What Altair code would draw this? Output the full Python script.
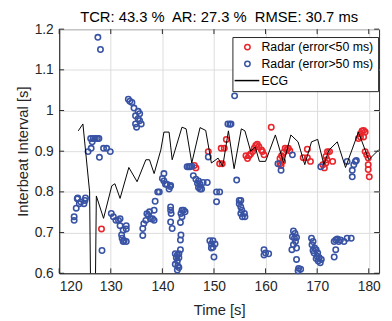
import altair as alt
import pandas as pd

# ---------------- data ----------------
red_t = [128.2, 146.2, 146.5, 148.9, 151.1, 151.6, 151.4, 152.0, 152.4,
         156.2, 156.8, 156.5, 157.1, 157.5, 157.8, 158.1, 158.4, 158.7, 159.4, 159.7, 159.2,
         161.1, 162.8, 163.1, 163.5, 163.8, 164.1, 164.4, 164.7, 163.0, 163.3, 162.8,
         167.3, 168.1, 168.1, 168.7, 171.1, 171.4, 171.7, 171.7, 172.0, 172.4, 171.9, 173.0,
         178.0, 178.4, 178.7, 179.0, 179.3, 178.4, 179.0, 179.3, 179.6, 179.9, 179.9, 179.9, 180.1]
red_v = [0.709, 0.865, 0.859, 0.899, 0.869, 0.869, 0.907, 0.907, 0.929,
         0.889, 0.889, 0.882, 0.893, 0.899, 0.907, 0.914, 0.917, 0.911, 0.899, 0.891, 0.903,
         0.959, 0.882, 0.889, 0.897, 0.907, 0.903, 0.907, 0.901, 0.865, 0.875, 0.869,
         0.884, 0.905, 0.884, 0.875, 0.867, 0.859, 0.871, 0.887, 0.899, 0.899, 0.879, 0.875,
         0.931, 0.943, 0.950, 0.951, 0.947, 0.935, 0.935, 0.899, 0.891, 0.883, 0.867, 0.855, 0.837]

blue_t = [127.5, 128.0, 133.4, 133.7, 134.1, 134.5, 135.3, 135.6, 134.8, 135.3, 135.6, 134.8, 135.0, 135.9,
          126.1, 126.6, 127.0, 127.4, 127.7, 126.4, 126.2, 125.6, 128.6, 129.2, 129.9, 127.8,
          123.5, 123.6, 123.9, 124.2, 124.8, 125.1, 125.0, 123.3, 122.9, 122.9, 128.3,
          130.1, 130.5, 131.0, 131.5, 131.8, 131.8, 132.4, 133.0, 133.0, 132.1, 132.2, 132.6, 133.0, 132.4,
          136.2, 136.2, 136.4, 136.8, 137.0, 137.3, 137.7, 137.5, 138.1, 138.4, 138.4, 138.6,
          139.1, 139.4, 140.0, 140.3, 140.6, 140.3, 144.8, 145.1, 145.4, 145.7,
          140.9, 141.5, 141.3, 141.6, 146.0, 146.5, 147.0, 147.3, 147.0, 147.6, 147.3, 147.9, 148.7, 146.8,
          150.5, 151.1, 150.5, 154.4, 154.9, 155.2, 154.9, 155.2, 155.4, 155.2, 155.5, 156.0, 155.9,
          141.6, 141.6, 141.7, 141.6, 141.9, 143.8, 144.1, 144.4, 143.6, 143.8, 143.5, 143.6, 143.5,
          142.5, 142.9, 143.2, 142.7, 142.9, 142.5, 143.0, 143.2, 142.9, 143.5, 143.2,
          149.2, 149.8, 149.5, 150.2, 149.8, 150.0, 149.5, 159.7, 160.0, 160.6, 159.7,
          154.0, 152.7, 153.3, 153.1, 148.9, 162.4, 163.0, 165.2, 170.7,
          175.8, 177.4, 177.1, 176.8, 176.8, 177.6,
          165.4, 165.7, 165.2, 165.6, 166.0, 165.8, 165.4, 165.1, 166.0, 166.0, 166.4, 166.8, 166.3,
          168.9, 169.2, 169.0, 169.5, 169.8, 169.2, 169.4, 170.1, 170.0, 169.8, 170.4, 170.8, 170.6, 170.2,
          173.3, 173.6, 173.9, 174.5, 174.2, 175.2, 175.8, 176.6, 173.6, 173.3]
blue_v = [1.180, 1.150, 1.028, 1.023, 1.020, 1.006, 0.998, 0.992, 0.987, 0.980, 0.975, 0.967, 0.959, 0.967,
          0.931, 0.931, 0.931, 0.931, 0.931, 0.923, 0.907, 0.899, 0.907, 0.907, 0.899, 0.885,
          0.783, 0.785, 0.771, 0.775, 0.771, 0.785, 0.779, 0.760, 0.739, 0.730, 0.656,
          0.747, 0.739, 0.730, 0.730, 0.734, 0.717, 0.706, 0.717, 0.709, 0.694, 0.686, 0.680, 0.678, 0.678,
          0.693, 0.710, 0.722, 0.730, 0.746, 0.742, 0.734, 0.751, 0.734, 0.730, 0.755, 0.777,
          0.800, 0.800, 0.833, 0.827, 0.819, 0.845, 0.862, 0.862, 0.862, 0.863,
          0.819, 0.813, 0.807, 0.816, 0.840, 0.831, 0.827, 0.819, 0.811, 0.807, 0.807, 0.823, 0.823, 0.821,
          0.800, 0.800, 0.776, 0.829, 0.779, 0.779, 0.771, 0.763, 0.755, 0.747, 0.739, 0.739, 0.747,
          0.763, 0.755, 0.747, 0.726, 0.710, 0.755, 0.755, 0.751, 0.747, 0.739, 0.725, 0.694, 0.682,
          0.648, 0.645, 0.648, 0.638, 0.630, 0.622, 0.618, 0.614, 0.608, 0.658, 0.638,
          0.680, 0.680, 0.672, 0.672, 0.664, 0.640, 0.662, 0.658, 0.650, 0.648, 0.645,
          1.036, 0.967, 0.967, 0.966, 0.886, 0.869, 0.853, 0.891, 0.862,
          0.875, 0.875, 0.867, 0.853, 0.837, 0.877,
          0.704, 0.698, 0.690, 0.686, 0.688, 0.678, 0.670, 0.658, 0.662, 0.634, 0.612, 0.610, 0.606,
          0.686, 0.678, 0.670, 0.662, 0.658, 0.656, 0.650, 0.650, 0.642, 0.636, 0.638, 0.634, 0.626, 0.630,
          0.678, 0.682, 0.684, 0.682, 0.678, 0.678, 0.686, 0.686, 0.658, 0.640]

ecg_t = [123.7, 124.6, 125.9, 126.3, 126.8, 127.2, 128.6, 130.2, 130.8, 131.8, 133.5, 135.1,
         136.8, 137.5, 138.4, 139.7, 140.3, 141.3, 141.9, 143.8, 144.6, 145.7, 147.3, 148.4,
         149.5, 150.8, 151.7, 152.8, 153.9, 155.3, 156.0, 157.1, 158.0, 158.8, 160.0, 161.9,
         163.5, 164.9, 166.3, 167.6, 168.9, 170.1, 171.3, 172.3, 173.9, 175.5, 178.0, 180.0, 181.9]
ecg_v = [0.950, 0.967, 0.800, 0.300, 0.300, 0.790, 0.735, 0.815, 0.820, 0.784, 0.860, 0.825,
         0.879, 0.879, 0.845, 0.903, 0.947, 0.947, 0.879, 0.959, 0.955, 0.871, 0.958, 0.951,
         0.871, 0.883, 0.863, 0.950, 0.857, 0.955, 0.950, 0.900, 0.910, 0.875, 0.875, 0.940,
         0.871, 0.940, 0.923, 0.867, 0.923, 0.929, 0.867, 0.903, 0.923, 0.860, 0.947, 0.879, 0.903]

x_ticks = [120, 130, 140, 150, 160, 170, 180]
y_ticks = [0.6, 0.7, 0.8, 0.9, 1.0, 1.1, 1.2]

labels = ["Radar (error<50 ms)", "Radar (error>50 ms)", "ECG"]
colors = ["#e8262b", "#3953a4", "#000000"]

NB = "\u00a0"
title_text = f"TCR: 43.3 %{NB} AR: 27.3 %{NB} RMSE: 30.7 ms"

# ---------------- tables ----------------
pts = pd.concat([
    pd.DataFrame({"t": red_t, "v": red_v, "series": labels[0]}),
    pd.DataFrame({"t": blue_t, "v": blue_v, "series": labels[1]}),
], ignore_index=True)
ecg = pd.DataFrame({"t": ecg_t, "v": ecg_v})
xt = pd.DataFrame({"t": x_ticks})
yt = pd.DataFrame({"v": y_ticks})

W, H = 325, 248
FONT = "Liberation Sans"
AX = "#262626"

xs = alt.Scale(domain=[120, 182], nice=False, zero=False)
ys = alt.Scale(domain=[0.6, 1.2], nice=False, zero=False)

line_path = "M-4.75,0L4.4,0"

points = alt.Chart(pts).mark_point(filled=False, size=30, strokeWidth=1.6, opacity=1).encode(
    x=alt.X("t:Q", scale=xs, axis=alt.Axis(values=x_ticks, format="d", title="Time [s]")),
    y=alt.Y("v:Q", scale=ys, axis=alt.Axis(values=y_ticks, format="~g", title="Interbeat Interval [s]",
                                           titleX=-29)),
    color=alt.Color("series:N", scale=alt.Scale(domain=labels, range=colors),
                    legend=alt.Legend(title=None, orient="none", legendX=176, legendY=8,
                                      fillColor="white", strokeColor=AX, padding=4,
                                      symbolOffset=5, labelOffset=8, rowPadding=4,
                                      symbolSize=30, symbolStrokeWidth=1.5,
                                      labelFontSize=12.5, labelFont=FONT, labelColor="#000000")),
    shape=alt.Shape("series:N", scale=alt.Scale(domain=labels, range=["circle", "circle", line_path]),
                    legend=alt.Legend(title=None)),
)

line = alt.Chart(ecg).mark_line(color="black", strokeWidth=1, clip=True).encode(
    x=alt.X("t:Q", scale=xs), y=alt.Y("v:Q", scale=ys))

tk = 5
xb = alt.Chart(xt).mark_rule(color=AX, strokeWidth=1).encode(x=alt.X("t:Q", scale=xs), y=alt.value(H), y2=alt.value(H - tk))
xtp = alt.Chart(xt).mark_rule(color=AX, strokeWidth=1).encode(x=alt.X("t:Q", scale=xs), y=alt.value(0), y2=alt.value(tk))
yl = alt.Chart(yt).mark_rule(color=AX, strokeWidth=1).encode(y=alt.Y("v:Q", scale=ys), x=alt.value(0), x2=alt.value(tk))
yr = alt.Chart(yt).mark_rule(color=AX, strokeWidth=1).encode(y=alt.Y("v:Q", scale=ys), x=alt.value(W), x2=alt.value(W - tk))

chart = alt.layer(points, line, xb, xtp, yl, yr).properties(
    width=W, height=H,
    title=alt.TitleParams(title_text, fontSize=15, fontWeight="normal", font=FONT, color="#000000", offset=-3),
    autosize=alt.AutoSizeParams(type="none"),
    padding={"left": 52, "top": 19, "right": 5, "bottom": 45},
).configure_view(stroke=AX, strokeWidth=1).configure_axis(
    labelFont=FONT, titleFont=FONT, labelFontSize=14, titleFontSize=15,
    labelColor=AX, titleColor=AX, titleFontWeight="normal",
    ticks=False, domainColor=AX, gridColor="#dcdcdc", gridWidth=1,
).configure_axisX(labelPadding=7, titlePadding=9).configure_axisY(labelPadding=6)

chart.save("out.html", embed_options={"renderer": "svg", "actions": False})
